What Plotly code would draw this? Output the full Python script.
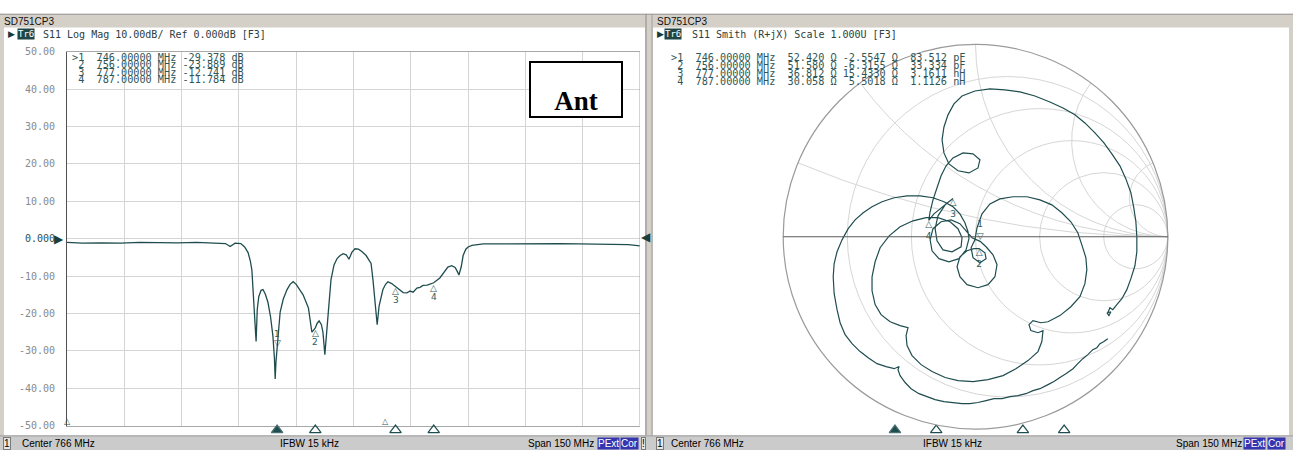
import numpy as np
import plotly.graph_objects as go

W, H = 1293, 456

# ---------------- data ----------------
freq_mhz = [691, 695, 700, 705, 710, 715, 720, 725, 730, 732.5, 733.7, 735, 736.5, 737.5,
            738.4, 739.0, 739.4, 739.7, 740.1, 740.5, 740.8, 741.2, 741.8, 742.3, 742.9,
            743.6, 744.3, 744.9, 745.3, 745.5, 745.7, 746, 746.4, 746.8, 747.6, 748.6,
            749.4, 750.2, 751, 752, 752.8, 753.6, 754.2, 754.6, 755.1, 755.5, 756, 756.5,
            757, 757.6, 758, 758.5, 758.9, 759.3, 760.1, 760.9, 761.7, 762.5, 763.3, 764.1,
            764.8, 765.6, 766.4, 767.3, 768.2, 769.3, 770.2, 770.6, 771.1, 771.6, 771.9,
            772.2, 772.7, 773.2, 773.7, 774.4, 775, 776, 777, 778, 779, 780, 780.8, 781.6,
            782.6, 783.4, 784.2, 785.3, 786.5, 787, 788.6, 789.7, 790.7, 791.7, 792.6,
            793.2, 793.6, 794.2, 794.7, 795.4, 796, 797, 798.3, 800, 805, 810, 815, 820,
            825, 830, 835, 838, 841]
s11_db = [-1.0, -1.2, -1.1, -1.2, -1.0, -1.1, -1.1, -1.0, -1.1, -1.3, -2.1, -1.2, -1.3, -2.2,
          -3.7, -6.0, -8.4, -13.6, -20.0, -27.5, -19.0, -15.5, -13.8, -13.6, -14.8,
          -17.0, -21.0, -26.0, -32.0, -37.5, -33.0, -29.378, -24.0, -19.6, -16.2, -13.6,
          -12.2, -11.5, -12.2, -13.6, -15.0, -17.0, -18.5, -21.4, -25.0, -24.5, -23.889, -22.6,
          -22.0, -23.0, -25.0, -31.0, -26.0, -21.0, -11.0, -7.0, -5.3, -4.5, -4.0, -4.3,
          -5.5, -3.6, -2.7, -2.8, -3.4, -4.5, -5.8, -6.6, -11.0, -16.0, -19.6,
          -23.0, -18.0, -15.5, -13.6, -12.2, -11.5, -12.0, -12.741, -13.6, -14.4, -14.5, -14.0, -14.3,
          -13.2, -13.0, -12.5, -12.4, -12.1, -11.784, -10.5, -9.0, -7.6, -7.2, -7.7,
          -8.8, -9.7, -7.5, -4.5, -2.8, -2.2, -1.8, -1.6, -1.4, -1.4, -1.3, -1.3, -1.3,
          -1.4, -1.4, -1.6, -1.6, -1.9]

marker_ids = ["1", "2", "3", "4"]
marker_freq = [746.0, 756.0, 777.0, 787.0]
marker_db = [-29.378, -23.889, -12.741, -11.784]
marker_r_ohm = [52.420, 51.580, 36.812, 30.058]
marker_x_ohm = [-2.5547, -6.3155, 15.433, 5.5018]
marker_lc = ["83.512 pF", "33.334 pF", "3.1611 nH", "1.1126 nH"]
offscale_freq = [691.0, 774.5]
z0_ohm = 50.0

y_ticks = [50, 40, 30, 20, 10, 0, -10, -20, -30, -40, -50]
y_tick_labels = ["50.00", "40.00", "30.00", "20.00", "10.00", "0.000",
                 "-10.00", "-20.00", "-30.00", "-40.00", "-50.00"]

smith_gamma_re = [0.688, 0.668, 0.647, 0.631, 0.610, 0.584, 0.558, 0.532, 0.507, 0.470,
                  0.439, 0.408, 0.377, 0.335, 0.299, 0.262, 0.221, 0.179, 0.138, 0.096,
                  0.055, 0.013, -0.029, -0.070, -0.117, -0.164, -0.210, -0.252, -0.294, -0.335,
                  -0.366, -0.392, -0.403, -0.397, -0.423,
                  -0.465, -0.512, -0.558, -0.600, -0.642, -0.678, -0.704, -0.720, -0.735, -0.740,
                  -0.735, -0.720, -0.694, -0.662, -0.626, -0.584, -0.538, -0.486, -0.423, -0.356,
                  -0.288, -0.221, -0.164, -0.117, -0.081, -0.055, -0.039, -0.034,
                  -0.049, -0.086, -0.138, -0.190, -0.226, -0.236, -0.221, -0.179, -0.127, -0.081,
                  -0.049, -0.018, 0.024,
                  0.055, 0.091, 0.112, 0.101, 0.065, 0.013, -0.044, -0.081, -0.096, -0.081,
                  -0.044, -0.008, 0.019, 0.049, 0.055, 0.023, -0.013, -0.023, -0.003,
                  0.008, 0.034, 0.075, 0.127, 0.195, 0.268, 0.335, 0.397, 0.449, 0.496,
                  0.532, 0.553, 0.574, 0.579, 0.569, 0.543, 0.496, 0.439, 0.377,
                  0.340, 0.299, 0.278, 0.288, 0.325, 0.351, 0.345, 0.325, 0.273, 0.210,
                  0.143, 0.065, -0.013, -0.091, -0.158, -0.226, -0.283, -0.330, -0.356, -0.361,
                  -0.351, -0.392, -0.444, -0.491, -0.522, -0.538, -0.538, -0.522, -0.496, -0.449,
                  -0.392, -0.325, -0.257, -0.195, -0.132, -0.091, -0.070, -0.075,
                  -0.122, -0.169, -0.200, -0.210, -0.195, -0.158, -0.117,
                  -0.153, -0.184, -0.216, -0.243,
                  -0.236, -0.221, -0.200, -0.179, -0.153, -0.117, -0.065, -0.013, 0.023, 0.013,
                  -0.034, -0.091, -0.138, -0.164, -0.174, -0.164, -0.143, -0.112, -0.070, -0.003,
                  0.075, 0.153, 0.231, 0.309, 0.387, 0.455, 0.517, 0.569, 0.621, 0.668,
                  0.709, 0.751, 0.782, 0.808, 0.823, 0.834, 0.839, 0.839, 0.829, 0.808,
                  0.787, 0.761, 0.735, 0.714,
                  0.699, 0.688, 0.704, 0.694, 0.683]
smith_gamma_im = [-0.530, -0.545, -0.556, -0.577, -0.587, -0.613, -0.634, -0.660, -0.686, -0.712,
                  -0.732, -0.753, -0.769, -0.790, -0.800, -0.816, -0.826, -0.831, -0.842, -0.842,
                  -0.852, -0.862, -0.868, -0.868, -0.862, -0.857, -0.847, -0.831, -0.816, -0.790,
                  -0.758, -0.722, -0.691, -0.675, -0.686,
                  -0.675, -0.660, -0.629, -0.597, -0.556, -0.509, -0.447, -0.379, -0.296, -0.208,
                  -0.140, -0.078, -0.016, 0.042, 0.088, 0.125, 0.156, 0.182, 0.203, 0.213,
                  0.213, 0.203, 0.182, 0.156, 0.119, 0.073, 0.026, -0.010,
                  -0.068, -0.114, -0.130, -0.114, -0.073, -0.016, 0.042, 0.078, 0.088, 0.068,
                  0.031, -0.005, -0.024,
                  -0.052, -0.094, -0.145, -0.208, -0.249, -0.265, -0.249, -0.208, -0.156, -0.104,
                  -0.073, -0.062, -0.061, -0.083, -0.114, -0.135, -0.109, -0.057, -0.016,
                  0.047, 0.119, 0.171, 0.197, 0.208, 0.208, 0.192, 0.166, 0.125, 0.078,
                  0.021, -0.042, -0.109, -0.171, -0.244, -0.312, -0.364, -0.410, -0.442,
                  -0.447, -0.436, -0.457, -0.488, -0.499, -0.488, -0.545, -0.597, -0.644, -0.686,
                  -0.722, -0.743, -0.753, -0.748, -0.732, -0.701, -0.665, -0.618, -0.566, -0.514,
                  -0.473, -0.462, -0.442, -0.405, -0.353, -0.281, -0.208, -0.130, -0.057, 0.005,
                  0.052, 0.083, 0.099, 0.099, 0.078, 0.042, -0.005, -0.052,
                  -0.078, -0.068, -0.021, 0.042, 0.109, 0.166, 0.199,
                  0.171, 0.145, 0.119, 0.085,
                  0.130, 0.192, 0.255, 0.317, 0.369, 0.410, 0.436, 0.431, 0.400, 0.358,
                  0.332, 0.343, 0.379, 0.436, 0.504, 0.571, 0.634, 0.691, 0.732, 0.758,
                  0.769, 0.764, 0.753, 0.732, 0.701, 0.670, 0.634, 0.592, 0.540, 0.488,
                  0.431, 0.369, 0.301, 0.229, 0.151, 0.078, 0.0, -0.078, -0.151, -0.218,
                  -0.275, -0.322, -0.353, -0.379,
                  -0.369, -0.395, -0.390, -0.410, -0.395]

# ---------------- styling ----------------
TRACE = "#1f4d4f"
MARK = "#2f5a5a"
GRID = "#d4d4d4"
CHROME = "#d4d0c8"
MONO = "DejaVu Sans Mono"
SANS = "Liberation Sans"
NB = "\u00a0"


def X(p):
    return p / W


def Y(p):
    return 1 - p / H


fig = go.Figure()

# log-mag trace
fig.add_trace(go.Scatter(x=freq_mhz, y=s11_db, mode="lines",
                         line=dict(color=TRACE, width=1.3), hoverinfo="skip",
                         showlegend=False, xaxis="x", yaxis="y"))

# frequency indicators below each panel (strip axes under the grids)
sym = ["triangle-up" if i == 0 else "triangle-up-open" for i in range(len(marker_freq))]
for xa, ya in (("x3", "y3"), ("x2", "y2")):
    fig.add_trace(go.Scatter(x=marker_freq, y=[0.5] * len(marker_freq), mode="markers",
                             marker=dict(symbol=sym, size=10, color=TRACE,
                                         line=dict(color="#4a7070", width=1.2)),
                             cliponaxis=False, hoverinfo="skip", showlegend=False,
                             xaxis=xa, yaxis=ya))

# Smith trace
g = np.array(smith_gamma_re) + 1j * np.array(smith_gamma_im)
z = (1 + g) / (1 - g)
fig.add_trace(go.Scattersmith(real=z.real, imag=z.imag, mode="lines",
                              line=dict(color=TRACE, width=1.2), hoverinfo="skip",
                              showlegend=False))

# Smith markers from the table impedances
zr = [r / z0_ohm for r in marker_r_ohm]
zi = [x / z0_ohm for x in marker_x_ohm]
fig.add_trace(go.Scattersmith(real=zr[:1], imag=zi[:1], mode="text",
                              text=[marker_ids[0] + "<br>▽"], textposition="top center",
                              textfont=dict(size=9, color=MARK, family="DejaVu Sans"),
                              hoverinfo="skip", showlegend=False))
fig.add_trace(go.Scattersmith(real=zr[1:], imag=zi[1:], mode="text",
                              text=["△<br>" + m for m in marker_ids[1:]],
                              textposition="bottom center",
                              textfont=dict(size=9, color=MARK, family="DejaVu Sans"),
                              hoverinfo="skip", showlegend=False))

ann = []
shapes = []


def txt(x, y, s, size=10, color="#000000", family=MONO, xanchor="left",
        yanchor="middle", **kw):
    d = dict(xref="paper", yref="paper", x=X(x), y=Y(y), text=s, showarrow=False,
             font=dict(size=size, color=color, family=family), xanchor=xanchor,
             yanchor=yanchor, borderpad=0)
    d.update(kw)
    ann.append(d)


def rect(x0, y0, x1, y1, fill, line=None, lw=0):
    shapes.append(dict(type="rect", xref="paper", yref="paper", x0=X(x0), x1=X(x1),
                       y0=Y(y1), y1=Y(y0), fillcolor=fill,
                       line=dict(color=line or fill, width=lw), layer="below"))


def hline(x0, x1, y, color, w=1):
    shapes.append(dict(type="line", xref="paper", yref="paper", x0=X(x0), x1=X(x1),
                       y0=Y(y), y1=Y(y), line=dict(color=color, width=w)))


def vline(x, y0, y1, color, w=1):
    shapes.append(dict(type="line", xref="paper", yref="paper", x0=X(x), x1=X(x),
                       y0=Y(y0), y1=Y(y1), line=dict(color=color, width=w)))


# ---- window chrome ----
rect(0, 8, 4, 441, CHROME)
rect(0, 8, 645, 22, CHROME)
rect(653, 8, 1293, 22, CHROME)
rect(645, 8, 653, 441, CHROME)
rect(1289, 8, 1293, 441, CHROME)
hline(0, 1293, 8.5, "#9a9a9a")
vline(646, 8, 441, "#8c8c8c")
vline(652, 8, 441, "#a0a0a0")
rect(0, 441, 1293, 456, "#cbcbcb")
hline(0, 1293, 441.5, "#9a9a9a")

txt(3, 16, "SD751CP3", size=10, family=SANS, color="#111111")
txt(656, 16, "SD751CP3", size=10, family=SANS, color="#111111")

# ---- headers ----
HEAD = "#2b4040"
txt(7, 29, "▶", size=9, color="#1a3a3a", family="DejaVu Sans")
txt(17, 29, "Tr6", size=9, color="white", family=MONO, bgcolor="#1f4545")
txt(42, 29, "S11 Log Mag 10.00dB/ Ref 0.000dB [F3]", size=10, color=HEAD)
txt(656, 29, "▶", size=9, color="#1a3a3a", family="DejaVu Sans")
txt(664, 29, "Tr6", size=9, color="white", family=MONO, bgcolor="#1f4545")
txt(691, 29, "S11 Smith (R+jX) Scale 1.000U [F3]", size=10, color=HEAD)

# ---- marker tables ----
TAB = "#2f5656"
left_rows = []
right_rows = []
for i, m in enumerate(marker_ids):
    lead = (">" if i == 0 else " ") + m
    left_rows.append(f"{lead}  {marker_freq[i]:.5f} MHz {marker_db[i]:.3f} dB")
    right_rows.append(f"{lead}  {marker_freq[i]:.5f} MHz  {marker_r_ohm[i]:.3f} Ω "
                      f"{marker_x_ohm[i]:7.4f} Ω  {marker_lc[i]}")
for i, r in enumerate(left_rows):
    txt(71, 52.5 + 7.7 * i, r.replace(" ", NB), size=10.2, color=TAB)
for i, r in enumerate(right_rows):
    txt(670, 53 + 8.3 * i, r.replace(" ", NB), size=10.2, color=TAB)

# ---- "Ant" label box ----
ann.append(dict(xref="paper", yref="paper", x=X(576), y=Y(85.5), text="<b>Ant</b>",
                showarrow=False, font=dict(size=27, color="black", family="Liberation Serif"),
                xanchor="center", yanchor="middle", bgcolor="white", bordercolor="black",
                borderwidth=2, borderpad=0, width=90, height=53, valign="bottom"))

# ---- log-mag markers on the trace ----
ann.append(dict(xref="x", yref="y", x=marker_freq[0], y=marker_db[0], text="▽",
                showarrow=False, yshift=6, font=dict(size=9, color=MARK, family="DejaVu Sans")))
ann.append(dict(xref="x", yref="y", x=marker_freq[0], y=marker_db[0], text=marker_ids[0],
                showarrow=False, yshift=15, font=dict(size=9, color=MARK, family="DejaVu Sans")))
for f, d, m in zip(marker_freq[1:], marker_db[1:], marker_ids[1:]):
    ann.append(dict(xref="x", yref="y", x=f, y=d, text="△", showarrow=False, yshift=-5,
                    font=dict(size=9, color=MARK, family="DejaVu Sans")))
    ann.append(dict(xref="x", yref="y", x=f, y=d, text=m, showarrow=False, yshift=-14,
                    font=dict(size=9, color=MARK, family="DejaVu Sans")))
for f in offscale_freq:
    ann.append(dict(xref="x", yref="y", x=f, y=-50, text="△", showarrow=False, yshift=4,
                    font=dict(size=8, color=MARK, family="DejaVu Sans")))
# reference level arrows
ann.append(dict(xref="x", yref="y", x=freq_mhz[0], y=0, text="▶", showarrow=False,
                xanchor="right", xshift=-1, font=dict(size=12, color="#1a3f3f", family="DejaVu Sans")))
ann.append(dict(xref="x", yref="y", x=freq_mhz[-1], y=0.5, text="◀", showarrow=False,
                xanchor="left", xshift=-1, font=dict(size=12, color="#1a3f3f", family="DejaVu Sans")))

# right frame edge of the log-mag grid
shapes.append(dict(type="line", xref="x", yref="y", x0=freq_mhz[-1], x1=freq_mhz[-1],
                   y0=-50, y1=50, line=dict(color="#a8a8a8", width=1)))

# ---- status bars ----
ST = 449
SB = 10
txt(3, ST, "1", size=10, family=SANS, bordercolor="#7a7a7a", borderwidth=1, bgcolor="#e6e6e6")
txt(21, ST, "Center 766 MHz", size=SB, family=SANS)
txt(279, ST, "IFBW 15 kHz", size=SB, family=SANS)
txt(527, ST, "Span 150 MHz", size=SB, family=SANS)
txt(597, ST, "PExt", size=SB, family=SANS, color="white", bgcolor="#3535b0")
txt(620, ST, "Cor", size=SB, family=SANS, color="white", bgcolor="#3535b0")
txt(641, ST, "!", size=SB, family=SANS, bordercolor="#7a7a7a", borderwidth=1, bgcolor="#e6e6e6")
txt(656, ST, "1", size=10, family=SANS, bordercolor="#7a7a7a", borderwidth=1, bgcolor="#e6e6e6")
txt(670, ST, "Center 766 MHz", size=SB, family=SANS)
txt(922, ST, "IFBW 15 kHz", size=SB, family=SANS)
txt(1175, ST, "Span 150 MHz", size=SB, family=SANS)
txt(1243, ST, "PExt", size=SB, family=SANS, color="white", bgcolor="#3535b0")
txt(1267, ST, "Cor", size=SB, family=SANS, color="white", bgcolor="#3535b0")

tick_text = [f'<span style="color:#2f4f4f">{t}</span>' if v == 0 else t
             for v, t in zip(y_ticks, y_tick_labels)]

fig.update_layout(
    width=W, height=H, autosize=False,
    margin=dict(l=0, r=0, t=0, b=0, pad=0),
    paper_bgcolor="white", plot_bgcolor="white",
    showlegend=False,
    xaxis=dict(domain=[X(67), X(640)], range=[691, 841], tick0=691, dtick=15,
               showgrid=True, gridcolor=GRID, gridwidth=1, showticklabels=False,
               zeroline=False, showline=True, linecolor="#a8a8a8", mirror=True,
               ticks="", fixedrange=True),
    yaxis=dict(domain=[Y(431), Y(47)], range=[-50, 50], tickmode="array",
               tickvals=y_ticks, ticktext=tick_text,
               tickfont=dict(family=MONO, size=10, color="#8a8a8a"),
               showgrid=True, gridcolor=GRID, gridwidth=1, zeroline=False,
               showline=True, linecolor="#505050", ticks="", ticklabelstandoff=9,
               fixedrange=True),
    xaxis3=dict(domain=[X(67), X(640)], range=[691, 841], visible=False,
                anchor="y3", fixedrange=True),
    yaxis3=dict(domain=[Y(440), Y(431)], range=[0, 1], visible=False,
                anchor="x3", fixedrange=True),
    xaxis2=dict(domain=[X(668), X(1287)], range=[691, 841], visible=False,
                anchor="y2", fixedrange=True),
    yaxis2=dict(domain=[Y(440), Y(431)], range=[0, 1], visible=False,
                anchor="x2", fixedrange=True),
    smith=dict(
        domain=dict(x=[X(778), X(1173)], y=[Y(434.5), Y(39.5)]),
        bgcolor="white",
        realaxis=dict(tickvals=[0.2, 0.5, 1, 2, 5], showticklabels=False, ticks="",
                      gridcolor="#d6d6d6", gridwidth=1, showline=True,
                      linecolor="#5a5a5a", linewidth=1),
        imaginaryaxis=dict(tickvals=[0.2, 0.5, 1, 2, 5], showticklabels=False, ticks="",
                           gridcolor="#d6d6d6", gridwidth=1, showline=True,
                           linecolor="#9a9a9a", linewidth=1.2),
    ),
    annotations=ann,
    shapes=shapes,
)

fig.write_html("out.html", config={"displayModeBar": False},
               post_script="document.body.style.margin='0';")
